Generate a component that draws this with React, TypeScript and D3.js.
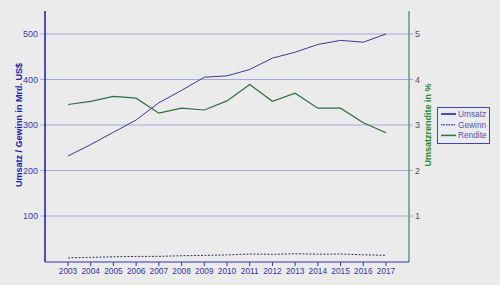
import React from "react";
import * as d3 from "d3";

const years = [2003, 2004, 2005, 2006, 2007, 2008, 2009, 2010, 2011, 2012, 2013, 2014, 2015, 2016, 2017];
const umsatz = [232, 257, 284, 311, 349, 376, 405, 408, 422, 447, 460, 477, 486, 482, 500];
const gewinn = [8.0, 9.1, 10.3, 11.2, 11.3, 12.7, 13.4, 14.4, 16.4, 15.7, 17.0, 16.0, 16.4, 14.7, 13.6];
const rendite = [3.45, 3.52, 3.63, 3.59, 3.26, 3.37, 3.33, 3.53, 3.89, 3.52, 3.70, 3.37, 3.37, 3.05, 2.83];
const leftTicks = [100, 200, 300, 400, 500];
const rightTicks = [1, 2, 3, 4, 5];
const legendItems = ["Umsatz", "Gewinn", "Rendite"];

export default function App() {
  const W = 500, H = 285;
  const x0 = 45, x1 = 409, yTop = 11, yBot = 262;
  const x = d3.scaleLinear().domain([2003, 2017]).range([68, 386]);
  const yL = d3.scaleLinear().domain([0, 500]).range([261.5, 34]);
  const yR = d3.scaleLinear().domain([0, 5]).range([261.5, 34]);
  const lineL = d3.line<number>().x((_, i) => x(years[i])).y((d) => yL(d));
  const lineR = d3.line<number>().x((_, i) => x(years[i])).y((d) => yR(d));
  const font = "'Liberation Sans', Arial, sans-serif";
  const legendColors = ["#1a1a8c", "#4444bb", "#2a7a3a"];
  return (
    <svg width={W} height={H} style={{ position: "absolute", left: 0, top: 0, background: "#ebebeb" }} fontFamily={font}>
      <rect x={0} y={0} width={W} height={H} fill="#ebebeb" />
      {leftTicks.map((t) => (
        <g key={t}>
          <line x1={40} x2={413} y1={yL(t)} y2={yL(t)} stroke="#a6a6e0" strokeWidth={1} />
          <text x={38} y={yL(t)} dy="0.35em" textAnchor="end" fontSize={9} fill="#3a3aa8">{t}</text>
        </g>
      ))}
      {rightTicks.map((t) => (
        <text key={t} x={415} y={yR(t)} dy="0.35em" fontSize={9} fill="#555">{t}</text>
      ))}
      <line x1={x0} x2={x0} y1={yTop} y2={yBot} stroke="#1a1aa0" strokeWidth={1.5} />
      <line x1={x1} x2={x1} y1={yTop} y2={yBot} stroke="#5f9a80" strokeWidth={1.5} />
      <line x1={x0} x2={x1} y1={yBot} y2={yBot} stroke="#3333bb" strokeWidth={1} />
      {years.map((yr) => (
        <g key={yr}>
          <line x1={x(yr)} x2={x(yr)} y1={yBot} y2={yBot + 4} stroke="#3333bb" strokeWidth={1} />
          <text x={x(yr)} y={273.5} textAnchor="middle" fontSize={8.3} fill="#3333aa">{yr}</text>
        </g>
      ))}
      <path d={lineL(umsatz) || ""} fill="none" stroke="#3a3a96" strokeWidth={1} />
      <path d={lineL(gewinn) || ""} fill="none" stroke="#333366" strokeWidth={1} strokeDasharray="2,1.5" />
      <path d={lineR(rendite) || ""} fill="none" stroke="#2e6e3e" strokeWidth={1.2} />
      <text transform={`translate(22,125) rotate(-90)`} textAnchor="middle" fontSize={9} fontWeight="bold" fill="#1a1ab8">Umsatz / Gewinn in Mrd. US$</text>
      <text transform={`translate(431,125) rotate(-90)`} textAnchor="middle" fontSize={9} fontWeight="bold" fill="#1f8a2a">Umsatzrendite in %</text>
      <rect x={437.5} y={107.5} width={52} height={36} fill="#ebebf2" stroke="#4444bb" strokeWidth={1} />
      {legendItems.map((name, i) => (
        <g key={name}>
          <line x1={441} x2={456} y1={114 + i * 10.7} y2={114 + i * 10.7} stroke={legendColors[i]} strokeWidth={1.5} strokeDasharray={i === 1 ? "1.5,1" : undefined} />
          <text x={458} y={114 + i * 10.7} dy="0.35em" fontSize={8.3} fill="#5555aa">{name}</text>
        </g>
      ))}
    </svg>
  );
}
